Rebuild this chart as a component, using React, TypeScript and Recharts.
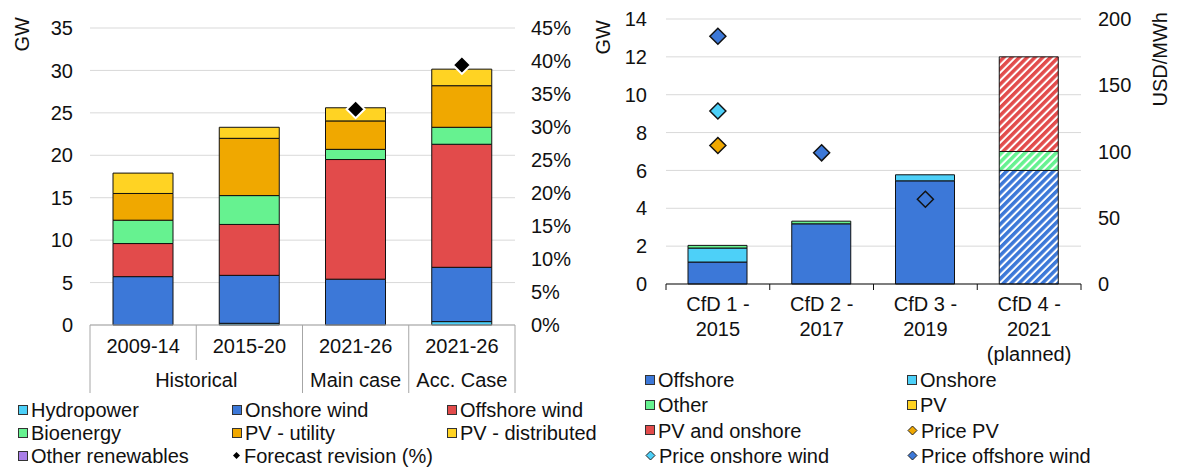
import React from 'react';
import { ComposedChart, Bar, Scatter, XAxis, YAxis, CartesianGrid, Cell } from 'recharts';

const FONT = '"Liberation Sans", Arial, sans-serif';
const INK = '#111111';
const GRID = '#d9d9d9';

const BLUE = '#3c78d8';
const CYAN = '#4dd0f8';
const RED = '#e24b4b';
const GREEN = '#66f290';
const ORANGE = '#f0a800';
const YELLOW = '#ffd323';
const PURPLE = '#a97ee8';

// left panel: capacity additions by period (GW) + forecast revision (%)
const periods = ['2009-14', '2015-20', '2021-26', '2021-26'];
const periodGroups = ['Historical', 'Historical', 'Main case', 'Acc. Case'];
const hydropower = [0, 0.2, 0, 0.4];
const onshoreWind = [5.7, 5.65, 5.4, 6.4];
const offshoreWind = [3.9, 6.0, 14.1, 14.5];
const bioenergy = [2.75, 3.4, 1.2, 2.0];
const pvUtility = [3.15, 6.75, 3.35, 4.9];
const pvDistributed = [2.4, 1.3, 1.55, 1.95];
const otherRenewables = [0, 0, 0, 0];
const forecastRevision: (number | null)[] = [null, null, 32.7, 39.4];
const gwTicksLeft = [0, 5, 10, 15, 20, 25, 30, 35];
const pctTicks = [0, 5, 10, 15, 20, 25, 30, 35, 40, 45];

// right panel: CfD auction rounds (GW) + strike prices (USD/MWh)
const rounds = [['CfD 1 -', '2015'], ['CfD 2 -', '2017'], ['CfD 3 -', '2019'], ['CfD 4 -', '2021', '(planned)']];
const planned = [false, false, false, true];
const cfdOffshore = [1.16, 3.18, 5.45, 6.0];
const cfdOnshore = [0.74, 0, 0.32, 0];
const cfdOther = [0.14, 0.14, 0, 1.0];
const cfdPv = [0, 0, 0, 0];
const cfdPvOnshore = [0, 0, 0, 5.0];
const pricePv: (number | null)[] = [104.5, null, null, null];
const priceOnshore: (number | null)[] = [130.6, null, null, null];
const priceOffshore: (number | null)[] = [187, 99, 64, null];
const gwTicksRight = [0, 2, 4, 6, 8, 10, 12, 14];
const priceTicks = [0, 50, 100, 150, 200];

const leftRows = periods.map((p, i) => ({
  key: String(i),
  hydro: hydropower[i],
  onshore: onshoreWind[i],
  offshore: offshoreWind[i],
  bio: bioenergy[i],
  pvU: pvUtility[i],
  pvD: pvDistributed[i],
  other: otherRenewables[i],
  revision: forecastRevision[i],
}));

const rightRows = rounds.map((r, i) => ({
  key: String(i),
  offshore: cfdOffshore[i],
  onshore: cfdOnshore[i],
  other: cfdOther[i],
  pv: cfdPv[i],
  pvOn: cfdPvOnshore[i],
  pPv: pricePv[i],
  pOn: priceOnshore[i],
  pOff: priceOffshore[i],
}));

const L_BAND = 425 / periods.length;
const R_BAND = 415 / rounds.length;
const tickText = { fontFamily: FONT, fontSize: 20, fill: INK };

const PeriodTick = (props: any) => {
  const { x, y, payload } = props;
  const i: number = payload?.index ?? props.index;
  const half = L_BAND / 2;
  const n = periods.length;
  const groupStart = i === 0 || periodGroups[i] !== periodGroups[i - 1];
  const groupEnd = i === n - 1 || periodGroups[i] !== periodGroups[i + 1];
  let s = i;
  while (s > 0 && periodGroups[s - 1] === periodGroups[i]) s--;
  const groupX = x - (i - s) * half;
  return (
    <g>
      <line x1={x - half} x2={x - half} y1={y} y2={y + (groupStart ? 68 : 35)} stroke="#a6a6a6" />
      {i === n - 1 && <line x1={x + half} x2={x + half} y1={y} y2={y + 68} stroke="#a6a6a6" />}
      <text x={x} y={y + 28} textAnchor="middle" {...tickText}>{periods[i]}</text>
      {groupEnd && <text x={groupX} y={y + 62} textAnchor="middle" {...tickText}>{periodGroups[i]}</text>}
    </g>
  );
};

const RoundTick = (props: any) => {
  const { x, y, payload } = props;
  const i: number = payload?.index ?? props.index;
  const half = R_BAND / 2;
  return (
    <g>
      <line x1={x - half} x2={x - half} y1={y} y2={y + 6} stroke={INK} />
      {i === rounds.length - 1 && <line x1={x + half} x2={x + half} y1={y} y2={y + 6} stroke={INK} />}
      {rounds[i].map((t, k) => (
        <text key={k} x={x} y={y + 26.5 + k * 25} textAnchor="middle" {...tickText}>{t}</text>
      ))}
    </g>
  );
};

const AxisTitle = (props: any) => {
  const { viewBox, text, dx, top } = props;
  const x = viewBox.x + dx;
  const y = viewBox.y + top;
  return (
    <text x={x} y={y} transform={`rotate(-90, ${x}, ${y})`} textAnchor="end" dominantBaseline="central" {...tickText}>
      {text}
    </text>
  );
};

const diamond = (key: string, fill: string, stroke: string, r: number, sw: number) => (props: any) => {
  const { cx, cy, payload } = props;
  if (payload == null || payload[key] == null || !Number.isFinite(cx) || !Number.isFinite(cy)) return <g />;
  return (
    <path
      d={`M${cx},${cy - r}L${cx + r},${cy}L${cx},${cy + r}L${cx - r},${cy}Z`}
      fill={fill}
      stroke={stroke}
      strokeWidth={sw}
    />
  );
};

const hatch = (id: string, color: string) => (
  <pattern id={id} width="5.5" height="5.5" patternUnits="userSpaceOnUse" patternTransform="rotate(45)">
    <rect width="5.5" height="5.5" fill="#ffffff" />
    <rect width="3.5" height="5.5" fill={color} />
  </pattern>
);

const LeftChart = () => (
  <ComposedChart width={600} height={400} data={leftRows} margin={{ top: 28, right: 0, bottom: 0, left: 0 }}>
    <CartesianGrid vertical={false} stroke={GRID} yAxisId="gw" />
    <XAxis
      dataKey="key"
      type="category"
      height={75}
      tickLine={false}
      tickSize={0}
      tickMargin={0}
      axisLine={{ stroke: '#a6a6a6' }}
      tick={<PeriodTick />}
      interval={0}
    />
    <YAxis
      yAxisId="gw"
      width={90}
      domain={[0, 35]}
      ticks={gwTicksLeft}
      axisLine={false}
      tickLine={false}
      tickSize={0}
      tickMargin={17}
      tick={tickText}
      label={<AxisTitle text="GW" dx={22} top={-11} />}
    />
    <YAxis
      yAxisId="pct"
      orientation="right"
      width={85}
      domain={[0, 45]}
      ticks={pctTicks}
      axisLine={false}
      tickLine={false}
      tickSize={0}
      tickMargin={16}
      tick={tickText}
      tickFormatter={(v: number) => `${v}%`}
    />
    <Bar yAxisId="gw" dataKey="hydro" stackId="a" fill={CYAN} stroke={INK} strokeWidth={1} barSize={60} isAnimationActive={false} />
    <Bar yAxisId="gw" dataKey="onshore" stackId="a" fill={BLUE} stroke={INK} strokeWidth={1} barSize={60} isAnimationActive={false} />
    <Bar yAxisId="gw" dataKey="offshore" stackId="a" fill={RED} stroke={INK} strokeWidth={1} barSize={60} isAnimationActive={false} />
    <Bar yAxisId="gw" dataKey="bio" stackId="a" fill={GREEN} stroke={INK} strokeWidth={1} barSize={60} isAnimationActive={false} />
    <Bar yAxisId="gw" dataKey="pvU" stackId="a" fill={ORANGE} stroke={INK} strokeWidth={1} barSize={60} isAnimationActive={false} />
    <Bar yAxisId="gw" dataKey="pvD" stackId="a" fill={YELLOW} stroke={INK} strokeWidth={1} barSize={60} isAnimationActive={false} />
    <Bar yAxisId="gw" dataKey="other" stackId="a" fill={PURPLE} stroke={INK} strokeWidth={1} barSize={60} isAnimationActive={false} />
    <Scatter yAxisId="pct" dataKey="revision" shape={diamond('revision', '#000000', '#ffffff', 9, 2)} isAnimationActive={false} />
  </ComposedChart>
);

const RightChart = () => (
  <ComposedChart width={585} height={375} data={rightRows} margin={{ top: 19, right: 0, bottom: 0, left: 0 }}>
    <defs>
      {hatch('hatchBlue', BLUE)}
      {hatch('hatchCyan', CYAN)}
      {hatch('hatchGreen', GREEN)}
      {hatch('hatchYellow', YELLOW)}
      {hatch('hatchRed', RED)}
    </defs>
    <CartesianGrid vertical={false} stroke={GRID} yAxisId="gw" />
    <XAxis
      dataKey="key"
      type="category"
      height={91}
      tickLine={false}
      tickSize={0}
      tickMargin={0}
      axisLine={{ stroke: INK }}
      tick={<RoundTick />}
      interval={0}
    />
    <YAxis
      yAxisId="gw"
      width={74}
      domain={[0, 14]}
      ticks={gwTicksRight}
      axisLine={false}
      tickLine={false}
      tickSize={0}
      tickMargin={19}
      tick={tickText}
      label={<AxisTitle text="GW" dx={11} top={1} />}
    />
    <YAxis
      yAxisId="price"
      orientation="right"
      width={96}
      domain={[0, 200]}
      ticks={priceTicks}
      axisLine={false}
      tickLine={false}
      tickSize={0}
      tickMargin={17}
      tick={tickText}
      label={<AxisTitle text="USD/MWh" dx={79} top={-7} />}
    />
    {[
      ['offshore', BLUE, 'hatchBlue'],
      ['onshore', CYAN, 'hatchCyan'],
      ['other', GREEN, 'hatchGreen'],
      ['pv', YELLOW, 'hatchYellow'],
      ['pvOn', RED, 'hatchRed'],
    ].map(([k, c, h]) => (
      <Bar key={k} yAxisId="gw" dataKey={k} stackId="r" fill={c} stroke={INK} strokeWidth={1} barSize={59} isAnimationActive={false}>
        {rightRows.map((_, i) => (
          <Cell key={i} fill={planned[i] ? `url(#${h})` : c} />
        ))}
      </Bar>
    ))}
    <Scatter yAxisId="price" dataKey="pPv" shape={diamond('pPv', ORANGE, INK, 8, 1.5)} isAnimationActive={false} />
    <Scatter yAxisId="price" dataKey="pOn" shape={diamond('pOn', CYAN, INK, 8, 1.5)} isAnimationActive={false} />
    <Scatter yAxisId="price" dataKey="pOff" shape={diamond('pOff', BLUE, INK, 8, 1.5)} isAnimationActive={false} />
  </ComposedChart>
);

const Square = ({ color }: { color: string }) => (
  <span style={{ display: 'inline-block', width: 8, height: 8, background: color, border: '1px solid #333', marginRight: 3, verticalAlign: 'middle', position: 'relative', top: -2 }} />
);

const Rhombus = ({ color, size }: { color: string; size: number }) => (
  <svg width={size + 2} height={size + 2} style={{ marginRight: 3, verticalAlign: 'middle', position: 'relative', top: -2 }}>
    <path
      d={`M${size / 2 + 1},1L${size + 1},${size / 2 + 1}L${size / 2 + 1},${size + 1}L1,${size / 2 + 1}Z`}
      fill={color}
      stroke={color === '#000000' ? 'none' : '#222'}
      strokeWidth={1}
    />
  </svg>
);

const leftLegend: [string, string, 'sq' | 'dm'][] = [
  ['Hydropower', CYAN, 'sq'],
  ['Onshore wind', BLUE, 'sq'],
  ['Offshore wind', RED, 'sq'],
  ['Bioenergy', GREEN, 'sq'],
  ['PV - utility', ORANGE, 'sq'],
  ['PV - distributed', YELLOW, 'sq'],
  ['Other renewables', PURPLE, 'sq'],
  ['Forecast revision (%)', '#000000', 'dm'],
];

const rightLegend: [string, string, 'sq' | 'dm'][] = [
  ['Offshore', BLUE, 'sq'],
  ['Onshore', CYAN, 'sq'],
  ['Other', GREEN, 'sq'],
  ['PV', YELLOW, 'sq'],
  ['PV and onshore', RED, 'sq'],
  ['Price PV', ORANGE, 'dm'],
  ['Price onshore wind', CYAN, 'dm'],
  ['Price offshore wind', BLUE, 'dm'],
];

const legendItem = ([label, color, kind]: [string, string, 'sq' | 'dm'], small: boolean) => (
  <div key={label} style={{ whiteSpace: 'nowrap' }}>
    {kind === 'sq' ? <Square color={color} /> : <Rhombus color={color} size={small ? 7 : 9} />}
    {label}
  </div>
);

export default function App() {
  return (
    <div style={{ position: 'absolute', left: 0, top: 0, width: 1177, height: 468, background: '#ffffff', fontFamily: FONT, color: INK, overflow: 'hidden' }}>
      <div style={{ position: 'absolute', left: 0, top: 0 }}>
        <LeftChart />
      </div>
      <div style={{ position: 'absolute', left: 592, top: 0 }}>
        <RightChart />
      </div>
      <div
        style={{
          position: 'absolute', left: 18, top: 399, display: 'grid',
          gridTemplateColumns: '214px 215px 160px', fontSize: 20, lineHeight: '23px',
        }}
      >
        {leftLegend.map((it) => legendItem(it, true))}
      </div>
      <div
        style={{
          position: 'absolute', left: 645, top: 368, display: 'grid',
          gridTemplateColumns: '262px 260px', fontSize: 20, lineHeight: '25.3px',
        }}
      >
        {rightLegend.map((it) => legendItem(it, false))}
      </div>
    </div>
  );
}
